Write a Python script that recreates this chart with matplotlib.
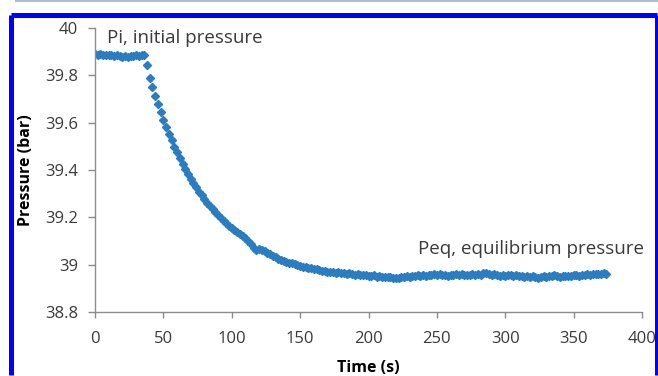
import numpy as np
import matplotlib
matplotlib.use('Agg')
import matplotlib.pyplot as plt
from matplotlib.lines import Line2D

plt.rcParams['font.family'] = ['Open Sans', 'DejaVu Sans']

# pressure readings (bar), one every 2 s starting at t = 0
pressure = [
    39.890, 39.888, 39.889, 39.886, 39.887, 39.885, 39.886, 39.883, 39.884, 39.881,
    39.879, 39.882, 39.878, 39.883, 39.881, 39.884, 39.882, 39.885, 39.888,
    39.845, 39.790, 39.751, 39.714, 39.679, 39.645, 39.613, 39.583, 39.553, 39.526,
    39.499, 39.474, 39.450, 39.427, 39.405, 39.384, 39.364, 39.345, 39.327, 39.309,
    39.293, 39.277, 39.262, 39.248, 39.234, 39.221, 39.209, 39.197, 39.186, 39.175,
    39.165, 39.155, 39.146, 39.137, 39.128, 39.120, 39.113, 39.102, 39.088, 39.072,
    39.062, 39.068, 39.063, 39.058, 39.050, 39.043, 39.037, 39.031, 39.026, 39.020,
    39.016, 39.012, 39.007, 39.005, 39.001, 38.998, 38.995, 38.992, 38.989, 38.987,
    38.985, 38.982, 38.980, 38.977, 38.975, 38.972, 38.970, 38.968, 38.969, 38.966,
    38.967, 38.963, 38.964, 38.962, 38.966, 38.960, 38.958, 38.961, 38.957, 38.955,
    38.958, 38.953, 38.952, 38.955, 38.950, 38.952, 38.948, 38.950, 38.946, 38.947,
    38.944, 38.945, 38.942, 38.946, 38.948, 38.951, 38.949, 38.953, 38.952, 38.955,
    38.951, 38.956, 38.953, 38.957, 38.955, 38.960, 38.957, 38.962, 38.956, 38.958,
    38.954, 38.957, 38.955, 38.959, 38.956, 38.960, 38.957, 38.955, 38.958, 38.961,
    38.957, 38.960, 38.958, 38.963, 38.966, 38.962, 38.958, 38.961, 38.956, 38.954,
    38.957, 38.952, 38.955, 38.958, 38.953, 38.956, 38.951, 38.954, 38.950, 38.952,
    38.948, 38.951, 38.947, 38.945, 38.949, 38.952, 38.950, 38.954, 38.951, 38.955,
    38.953, 38.950, 38.953, 38.951, 38.954, 38.952, 38.955, 38.957, 38.954, 38.958,
    38.956, 38.960, 38.958, 38.961, 38.959, 38.962, 38.960, 38.963, 38.961,
]
time = np.arange(len(pressure)) * 2  # sampling interval 2 s

xticks = [0, 50, 100, 150, 200, 250, 300, 350, 400]
yticks = [38.8, 39.0, 39.2, 39.4, 39.6, 39.8, 40.0]
ytick_labels = ['38.8', '39', '39.2', '39.4', '39.6', '39.8', '40']

fig = plt.figure(figsize=(6.58, 3.76), dpi=100)
ax = fig.add_axes([0.1444, 0.1702, 0.8313, 0.7553])

ax.plot(time, pressure, ls='none', marker='D', ms=4.4, color='#2b7dc1', mec='#2b7dc1')

ax.set_xlim(0, 400)
ax.set_ylim(38.8, 40)
ax.set_xticks(xticks)
ax.set_yticks(yticks)
ax.set_yticklabels(ytick_labels)

for s in ['top', 'right']:
    ax.spines[s].set_visible(False)
for s in ['left', 'bottom']:
    ax.spines[s].set_color('#8c8c8c')
    ax.spines[s].set_linewidth(1)
ax.tick_params(axis='y', direction='out', length=5, width=1, color='#8c8c8c',
               labelsize=12, labelcolor='#3a3a3a', pad=7)
ax.tick_params(axis='x', direction='out', length=4, width=1, color='#8c8c8c',
               labelsize=12, labelcolor='#3a3a3a', pad=10)

ax.set_xlabel('Time (s)', fontsize=11.5, fontweight='bold', labelpad=9)
ax.set_ylabel('Pressure (bar)', fontsize=11.5, fontweight='bold', labelpad=8)

ax.text(8.5, 39.958, 'Pi, initial pressure', fontsize=13.5, color='#3a3a3a',
        ha='left', va='center')
ax.text(401.5, 39.066, 'Peq, equilibrium pressure', fontsize=13.5, color='#3a3a3a',
        ha='right', va='center', clip_on=False)

# blue frame (left, top, right) and thin rule at the top of the image
L, R, T = 10.5 / 658, 656.5 / 658, 1 - 15 / 376
B = 1.5 / 376
for xs, ys in [([L, L], [B, T]), ([L, R], [T, T]), ([R, R], [B, T])]:
    fig.add_artist(Line2D(xs, ys, transform=fig.transFigure, color='#0000ff',
                          lw=3.6, solid_capstyle='butt'))
fig.add_artist(Line2D([16 / 658, 1], [1 - 0.8 / 376] * 2, transform=fig.transFigure,
                      color='#a9bfd3', lw=1.5))

fig.savefig('out.png', dpi=100)
